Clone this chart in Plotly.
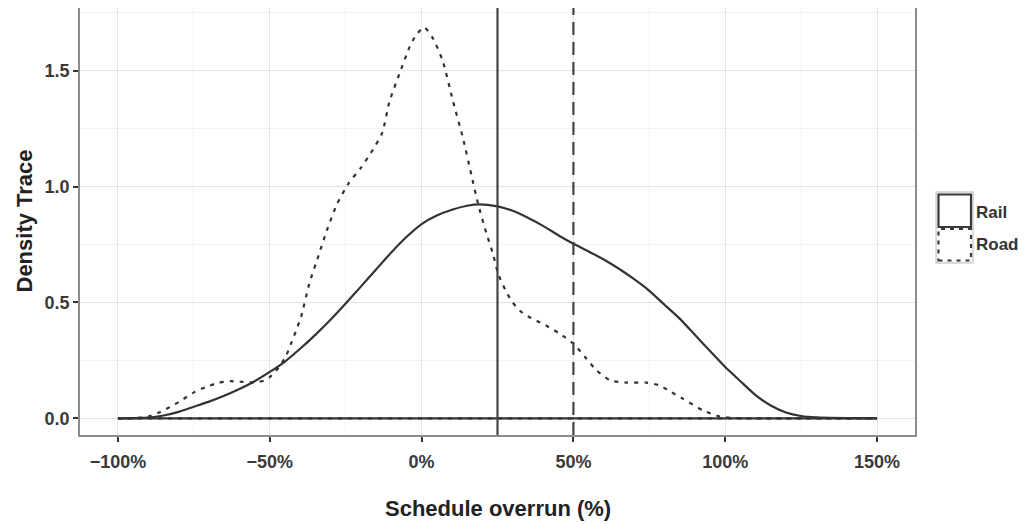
import plotly.graph_objects as go

# ---- data ----
rail_x = [-100, -95, -90, -85, -80, -75, -70, -65, -60, -55, -50, -45, -40, -35, -30, -25,
          -20, -15, -10, -5, 0, 5, 10, 15, 19, 25, 30, 35, 40, 45, 50, 55, 60, 65, 70,
          75, 80, 85, 90, 95, 100, 105, 110, 115, 120, 125, 130, 140, 150]
rail_y = [0.0, 0.001, 0.003, 0.012, 0.028, 0.05, 0.072, 0.097, 0.126, 0.16, 0.20, 0.245,
          0.30, 0.36, 0.425, 0.495, 0.568, 0.642, 0.715, 0.782, 0.838, 0.875, 0.90, 0.917,
          0.923, 0.914, 0.895, 0.865, 0.83, 0.79, 0.753, 0.72, 0.685, 0.645, 0.60,
          0.55, 0.49, 0.43, 0.36, 0.29, 0.221, 0.16, 0.10, 0.055, 0.025, 0.01, 0.004,
          0.001, 0.0]

road_x = [-100, -95, -90, -86, -80, -75, -71, -67, -63, -59, -55, -52, -50, -47, -44.6,
          -43, -41, -39.7, -37, -34, -31, -28, -24, -20, -16, -13, -10.5, -7.3, -4, -2,
          0.8, 3.7, 7, 10.3, 13.6, 16.4, 18.6, 21.3, 23.5, 25.2, 27.9, 30, 32.3, 35, 38,
          41, 45.5, 50, 54.3, 57.6, 62, 67.5, 74, 78.4, 82, 86, 92.7, 98, 102, 106, 150]
road_y = [0.0, 0.0, 0.008, 0.027, 0.07, 0.112, 0.135, 0.153, 0.16, 0.157, 0.155, 0.162,
          0.178, 0.22, 0.27, 0.322, 0.39, 0.437, 0.58, 0.70, 0.818, 0.92, 1.015, 1.08,
          1.16, 1.23, 1.37, 1.486, 1.60, 1.65, 1.687, 1.64, 1.54, 1.37, 1.21, 1.05,
          0.925, 0.80, 0.71, 0.624, 0.545, 0.50, 0.465, 0.44, 0.42, 0.40, 0.365, 0.322,
          0.257, 0.207, 0.164, 0.154, 0.154, 0.142, 0.115, 0.085, 0.034, 0.009, 0.002,
          0.0, 0.0]

series_names = ["Rail", "Road"]
mean_lines = [25, 50]  # Rail (solid), Road (dashed)

x_ticks = [-100, -50, 0, 50, 100, 150]
y_ticks = [0.0, 0.5, 1.0, 1.5]

# ---- styles ----
DARK = "#333333"
FONT = "Liberation Sans, Arial, Helvetica, sans-serif"
rail_style = dict(color=DARK, width=2.2, shape="spline", smoothing=0.6)
road_style = dict(color=DARK, width=2.2, dash="4px,6px", shape="spline", smoothing=0.6)

fig = go.Figure()

# baselines of the density polygons
fig.add_trace(go.Scatter(x=[rail_x[0], rail_x[-1]], y=[0, 0], mode="lines",
                         line=dict(color=DARK, width=2.2), showlegend=False,
                         hoverinfo="skip"))
fig.add_trace(go.Scatter(x=[road_x[0], road_x[-1]], y=[0, 0], mode="lines",
                         line=dict(color=DARK, width=2.2, dash="4px,6px"),
                         showlegend=False, hoverinfo="skip"))
# density outlines
fig.add_trace(go.Scatter(x=rail_x, y=rail_y, mode="lines", line=rail_style,
                         name=series_names[0], showlegend=False, hoverinfo="skip"))
fig.add_trace(go.Scatter(x=road_x, y=road_y, mode="lines", line=road_style,
                         name=series_names[1], showlegend=False, hoverinfo="skip"))

# mean lines
fig.add_shape(type="line", xref="x", yref="paper", x0=mean_lines[0], x1=mean_lines[0],
              y0=0, y1=1, line=dict(color="#444444", width=2.2))
fig.add_shape(type="line", xref="x", yref="paper", x0=mean_lines[1], x1=mean_lines[1],
              y0=0, y1=1, line=dict(color="#444444", width=2.2, dash="13px,7px"))

# ---- layout geometry (page has an 8px body margin) ----
PANEL_L, PANEL_R, PANEL_T, PANEL_B = 80, 915, 8, 435
OFF = 8
W, H = 1019, 516


def px_x(p):
    return (p - PANEL_L) / (PANEL_R - PANEL_L)


def px_y(p):
    return (PANEL_B - p) / (PANEL_B - PANEL_T)


# ---- custom legend (ggplot-style keys) ----
fig.add_shape(type="rect", xref="paper", yref="paper",
              x0=px_x(936), x1=px_x(973), y0=px_y(263), y1=px_y(192),
              line=dict(color="#d0d0d0", width=1.5), fillcolor="#f4f4f4", layer="above")
fig.add_shape(type="rect", xref="paper", yref="paper",
              x0=px_x(938.5), x1=px_x(971), y0=px_y(227), y1=px_y(194.5),
              line=dict(color="#3a3a3a", width=2.2), fillcolor="white", layer="above")
fig.add_shape(type="rect", xref="paper", yref="paper",
              x0=px_x(938.5), x1=px_x(971), y0=px_y(260.5), y1=px_y(229),
              line=dict(color="#3a3a3a", width=2.2, dash="4px,5px"), fillcolor="white",
              layer="above")
fig.add_annotation(text="<b>Rail</b>", xref="paper", yref="paper", x=px_x(974), y=px_y(212),
                   xanchor="left", yanchor="middle", showarrow=False,
                   font=dict(family=FONT, size=17, color=DARK))
fig.add_annotation(text="<b>Road</b>", xref="paper", yref="paper", x=px_x(974), y=px_y(245),
                   xanchor="left", yanchor="middle", showarrow=False,
                   font=dict(family=FONT, size=17, color=DARK))

# axis titles
fig.add_annotation(text="<b>Schedule overrun (%)</b>", xref="paper", yref="paper",
                   x=0.5, y=px_y(508), xanchor="center", yanchor="middle", showarrow=False,
                   font=dict(family=FONT, size=22, color="#222222"))
fig.add_annotation(text="<b>Density Trace</b>", xref="paper", yref="paper",
                   x=px_x(24), y=0.5, xanchor="center", yanchor="middle", showarrow=False,
                   textangle=-90, font=dict(family=FONT, size=22, color="#222222"))

axis_common = dict(
    showline=True, mirror=True, linecolor="#8c8c8c", linewidth=1.5,
    ticks="outside", ticklen=5, tickwidth=1.5, tickcolor=DARK,
    showgrid=True, gridcolor="#e3e3e3", gridwidth=1.2, zeroline=False,
    tickfont=dict(family=FONT, size=18, color="#3a3a3a", weight="bold"),
)

fig.update_xaxes(range=[-112.5, 162.5], tickvals=x_ticks,
                 ticktext=[("\u2212" if v < 0 else "") + f"{abs(v)}%" for v in x_ticks],
                 ticklabelstandoff=5,
                 minor=dict(dtick=25, tick0=-100, showgrid=True, gridcolor="#f2f2f2",
                            ticks=""),
                 **axis_common)
fig.update_yaxes(range=[-0.072, 1.770], tickvals=y_ticks,
                 ticktext=[f"{v:.1f}" for v in y_ticks],
                 minor=dict(dtick=0.25, tick0=0, showgrid=True, gridcolor="#f2f2f2",
                            ticks=""),
                 **axis_common)

fig.update_layout(
    width=W, height=H,
    margin=dict(l=PANEL_L - OFF, r=W - (PANEL_R - OFF), t=PANEL_T - OFF,
                b=H - (PANEL_B - OFF), autoexpand=False),
    paper_bgcolor="white", plot_bgcolor="white",
    showlegend=False,
    font=dict(family=FONT),
)

fig.write_html("out.html")
